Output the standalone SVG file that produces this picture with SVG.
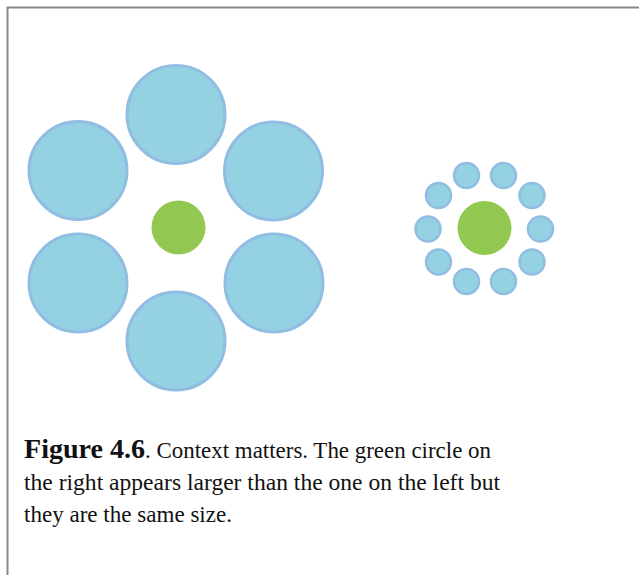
<svg xmlns="http://www.w3.org/2000/svg" width="639" height="575" viewBox="0 0 639 575">
<style>
.big{fill:#94d1e3;stroke:#91bde3;stroke-width:3}
.sm{fill:#94d1e3;stroke:#91bde3;stroke-width:2.5}
.grn{fill:#92c852}
.cap{font-family:"Liberation Serif",serif;font-size:23px;fill:#111}
.fig{font-weight:bold;font-size:28px}
</style>
<rect x="0" y="0" width="639" height="575" fill="#fff"/>
<rect x="7.5" y="7.5" width="640" height="580" fill="none" stroke="#8a8a8a" stroke-width="2"/>
<g id="left-cluster">
<circle class="big" cx="176" cy="114.5" r="49"/>
<circle class="big" cx="78" cy="170.5" r="49"/>
<circle class="big" cx="273.5" cy="171" r="49"/>
<circle class="big" cx="78" cy="283" r="49"/>
<circle class="big" cx="274" cy="283" r="49"/>
<circle class="big" cx="176" cy="341" r="49"/>
<circle class="grn" cx="178.5" cy="227.5" r="27"/>
</g>
<g id="right-cluster">
<circle class="sm" cx="428" cy="229" r="12.5"/>
<circle class="sm" cx="540.5" cy="229" r="12.5"/>
<circle class="sm" cx="466.5" cy="175.5" r="12.5"/>
<circle class="sm" cx="503.5" cy="175.5" r="12.5"/>
<circle class="sm" cx="438.5" cy="195.5" r="12.5"/>
<circle class="sm" cx="532" cy="195.5" r="12.5"/>
<circle class="sm" cx="438.5" cy="262" r="12.5"/>
<circle class="sm" cx="532" cy="262" r="12.5"/>
<circle class="sm" cx="466.5" cy="281.5" r="12.5"/>
<circle class="sm" cx="503.5" cy="281.5" r="12.5"/>
<circle class="grn" cx="484.5" cy="228" r="27"/>
</g>
<g id="caption">
<text class="cap" x="24" y="458"><tspan class="fig" textLength="121" lengthAdjust="spacingAndGlyphs">Figure 4.6</tspan><tspan textLength="346" lengthAdjust="spacingAndGlyphs">. Context matters. The green circle on</tspan></text>
<text class="cap" x="24" y="490" textLength="476" lengthAdjust="spacingAndGlyphs">the right appears larger than the one on the left but</text>
<text class="cap" x="24" y="522" textLength="208" lengthAdjust="spacingAndGlyphs">they are the same size.</text>
</g>
</svg>
